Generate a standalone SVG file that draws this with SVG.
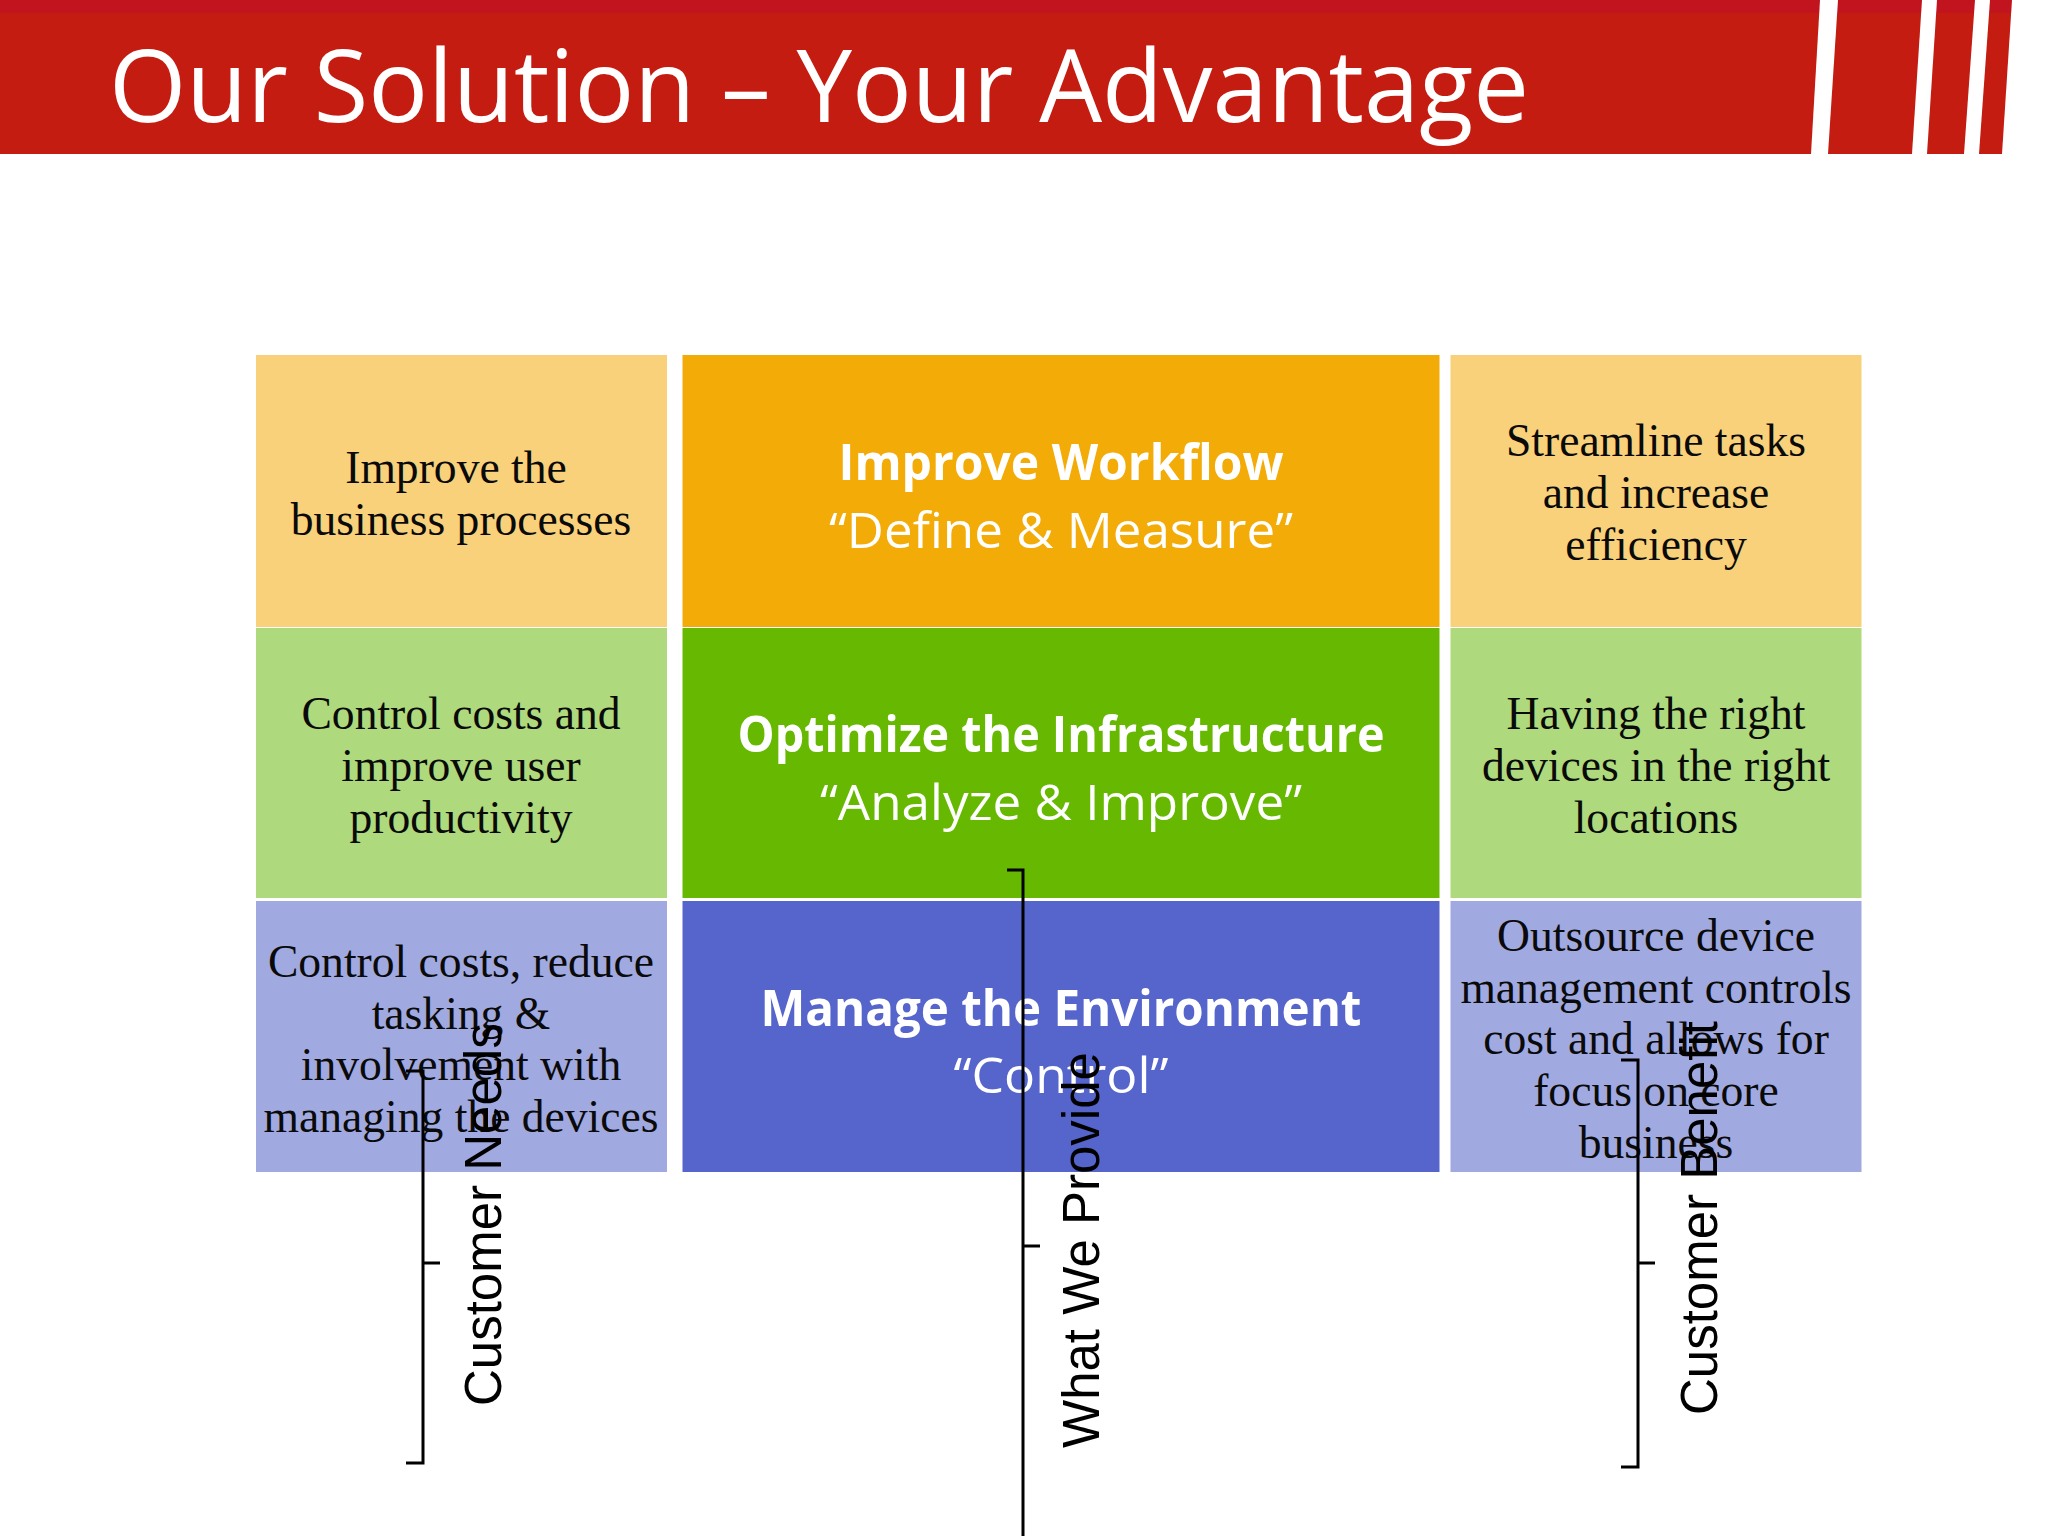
<svg xmlns="http://www.w3.org/2000/svg" width="2048" height="1536" viewBox="0 0 2048 1536">
<style>
.b{font-family:"Liberation Serif",serif;font-size:45.6px;fill:#0a0a0a;text-anchor:middle}
.h{font-family:"Open Sans","Noto Sans",sans-serif;fill:#fff;text-anchor:middle}
.t{font-weight:700;font-size:50px}
.s{font-size:50px}
.v{font-family:"Liberation Sans",sans-serif;font-size:51px;fill:#000}
.w{fill:#fff}
.c{fill:none;stroke:#000;stroke-width:3}
</style>
<rect width="2048" height="1536" fill="#fff"/>
<g id="header">
<rect x="0" y="0" width="2013" height="154" fill="#c51c12"/>
<rect x="0" y="0" width="2013" height="13" fill="#c2141f"/>
<polygon class="w" points="1820,0 1838,0 1828,154 1811,154"/>
<polygon class="w" points="1922,0 1937,0 1927,154 1912,154"/>
<polygon class="w" points="1975,0 1990,0 1979,154 1964,154"/>
<polygon class="w" points="2012,0 2048,0 2048,154 2002,154"/>
<text x="109" y="122" font-family="Open Sans, Noto Sans, sans-serif" font-size="100" fill="#fff" textLength="1420" lengthAdjust="spacingAndGlyphs">Our Solution – Your Advantage</text>
</g>
<g id="need-1"><rect x="256" y="355" width="411" height="272" fill="#f8d17a"/>
<text class="b" x="456" y="483">Improve the</text><text class="b" x="461" y="535">business processes</text></g>
<g id="provide-1"><rect x="682.500" y="355" width="757" height="272" fill="#f2ab07"/>
<text class="h t" x="1061" y="480" textLength="445" lengthAdjust="spacingAndGlyphs">Improve Workflow</text>
<text class="h s" x="1061" y="548" textLength="464" lengthAdjust="spacingAndGlyphs">“Define &amp; Measure”</text></g>
<g id="benefit-1"><rect x="1450.500" y="355" width="411" height="272" fill="#f8d17a"/>
<text class="b" x="1656" y="456">Streamline tasks</text><text class="b" x="1656" y="508">and increase</text><text class="b" x="1656" y="560">efficiency</text></g>
<g id="need-2"><rect x="256" y="628" width="411" height="270" fill="#aed97c"/>
<text class="b" x="461" y="729">Control costs and</text><text class="b" x="461" y="781">improve user</text><text class="b" x="461" y="833">productivity</text></g>
<g id="provide-2"><rect x="682.500" y="628" width="757" height="270" fill="#66b900"/>
<text class="h t" x="1061" y="752" textLength="647" lengthAdjust="spacingAndGlyphs">Optimize the Infrastructure</text>
<text class="h s" x="1061" y="820" textLength="482" lengthAdjust="spacingAndGlyphs">“Analyze &amp; Improve”</text></g>
<g id="benefit-2"><rect x="1450.500" y="628" width="411" height="270" fill="#aed97c"/>
<text class="b" x="1656" y="729">Having the right</text><text class="b" x="1656" y="781">devices in the right</text><text class="b" x="1656" y="833">locations</text></g>
<g id="need-3"><rect x="256" y="901" width="411" height="271" fill="#a0a9e0"/>
<text class="b" x="461" y="977">Control costs, reduce</text><text class="b" x="461" y="1029">tasking &amp;</text><text class="b" x="461" y="1080">involvement with</text><text class="b" x="461" y="1132">managing the devices</text></g>
<g id="provide-3"><rect x="682.500" y="901" width="757" height="271" fill="#5565cb"/>
<text class="h t" x="1061" y="1026" textLength="601" lengthAdjust="spacingAndGlyphs">Manage the Environment</text>
<text class="h s" x="1061" y="1093" textLength="215" lengthAdjust="spacingAndGlyphs">“Control”</text></g>
<g id="benefit-3"><rect x="1450.500" y="901" width="411" height="271" fill="#a0a9e0"/>
<text class="b" x="1656" y="951">Outsource device</text><text class="b" x="1656" y="1003">management controls</text><text class="b" x="1656" y="1054">cost and allows for</text><text class="b" x="1656" y="1106">focus on core</text><text class="b" x="1656" y="1158">business</text></g>
<g id="connectors">
<path class="c" d="M406 1071H423V1463H406M423 1263H440"/>
<path class="c" d="M1007 870H1023V1536M1023 1246H1040"/>
<path class="c" d="M1621 1060H1638V1467H1621M1638 1263H1655"/>
</g>
<g id="label-needs"><text class="v" transform="translate(501 1406) rotate(-90)">Customer Needs</text></g>
<g id="label-provide"><text class="v" transform="translate(1099 1448) rotate(-90)">What We Provide</text></g>
<g id="label-benefit"><text class="v" transform="translate(1717 1415) rotate(-90)">Customer Benefit</text></g>
</svg>
